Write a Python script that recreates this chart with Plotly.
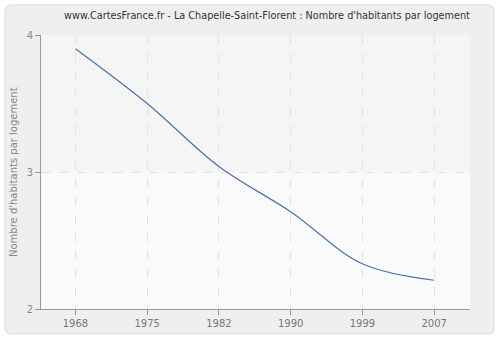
import plotly.graph_objects as go

years = ["1968", "1975", "1982", "1990", "1999", "2007"]
values = [3.90, 3.50, 3.04, 2.71, 2.33, 2.21]
y_ticks = [2, 3, 4]

title_text = "www.CartesFrance.fr - La Chapelle-Saint-Florent : Nombre d'habitants par logement"
y_label = "Nombre d'habitants par logement"

W, H = 500, 340
ml, mr, mt, mb = 41, 30, 35, 31
pw = W - ml - mr
ph = H - mt - mb

def px_x(p):
    return (p - ml) / pw

def px_y(p):
    return (H - mb - p) / ph

fig = go.Figure()
fig.add_trace(go.Scatter(
    x=years, y=values, mode="lines",
    line=dict(color="#4a72aa", width=1.2, shape="spline", smoothing=1.0),
    hoverinfo="skip", showlegend=False,
))

# outer rounded panel
L, R, T, B, r = 5, 494, 5, 334, 6
def P(x, y):
    return f"{px_x(x):.5f},{px_y(y):.5f}"
path = (f"M {P(L + r, T)} L {P(R - r, T)} Q {P(R, T)} {P(R, T + r)} "
        f"L {P(R, B - r)} Q {P(R, B)} {P(R - r, B)} "
        f"L {P(L + r, B)} Q {P(L, B)} {P(L, B - r)} "
        f"L {P(L, T + r)} Q {P(L, T)} {P(L + r, T)} Z")
fig.add_shape(type="path", xref="paper", yref="paper", path=path,
              fillcolor="#efefef", line=dict(color="#dcdcdc", width=1), layer="below")
fig.add_shape(type="rect", xref="paper", yref="y", x0=0, x1=1, y0=3, y1=4,
              fillcolor="#f5f5f5", line=dict(width=0), layer="below")
fig.add_shape(type="rect", xref="paper", yref="y", x0=0, x1=1, y0=2, y1=3,
              fillcolor="#fafafa", line=dict(width=0), layer="below")

font = "DejaVu Sans, Verdana, sans-serif"
fig.add_annotation(text=y_label, xref="paper", yref="paper",
                   x=px_x(13), y=0.5, xanchor="center", yanchor="middle",
                   textangle=-90, showarrow=False,
                   font=dict(family=font, size=10, color="#888888"))

fig.update_layout(
    width=W, height=H,
    margin=dict(l=ml, r=mr, t=mt, b=mb, autoexpand=False),
    paper_bgcolor="white",
    plot_bgcolor="rgba(0,0,0,0)",
    title=dict(text=title_text, x=0.534, xanchor="center", y=1 - 16 / H, yanchor="middle",
               font=dict(family=font, size=9.7, color="#333333")),
    xaxis=dict(type="category", range=[-0.48, 5.5], automargin=False,
               showgrid=True, gridcolor="#e2e2e2", griddash="dash", gridwidth=1,
               showline=True, linecolor="#999999", linewidth=1,
               ticks="outside", ticklen=5, tickcolor="#999999",
               tickfont=dict(family=font, size=10, color="#777777"),
               zeroline=False, fixedrange=True),
    yaxis=dict(range=[2, 4], tickmode="array", tickvals=y_ticks, automargin=False,
               showgrid=True, gridcolor="#e2e2e2", griddash="dash", gridwidth=1,
               showline=True, linecolor="#999999", linewidth=1,
               ticks="outside", ticklen=5, tickcolor="#999999",
               tickfont=dict(family=font, size=10, color="#888888"),
               zeroline=False, fixedrange=True),
)

fig.write_html("out.html")
